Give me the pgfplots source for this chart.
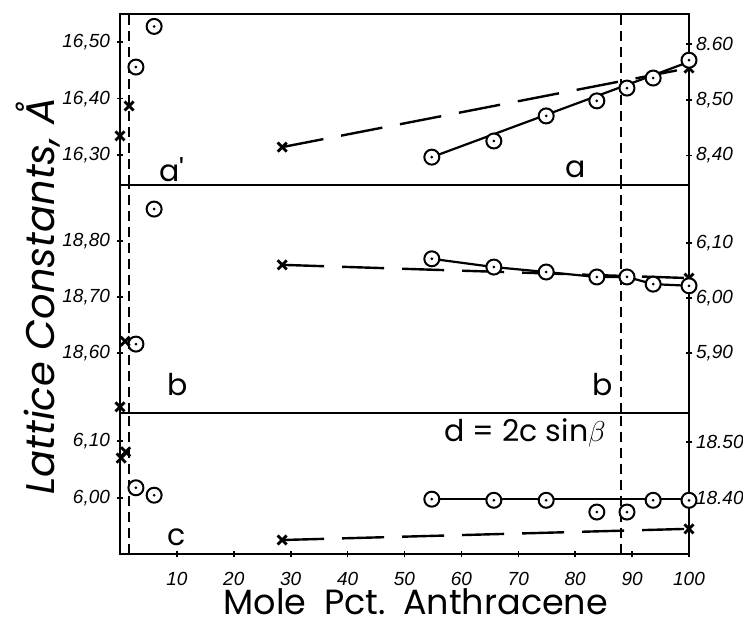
\documentclass[border=0pt]{standalone}
\usepackage{fontspec}
\setmainfont{Liberation Sans}
\newfontfamily\hand{Poppins}
\usepackage{pgfplots}
\pgfplotsset{compat=1.18}

% circle with a dot in the middle
\pgfdeclareplotmark{odot}{%
  \pgfpathcircle{\pgfpointorigin}{\pgfplotmarksize}%
  \pgfusepathqfillstroke
  \begin{pgfscope}
  \pgfpathcircle{\pgfpointorigin}{0.2\pgfplotmarksize}%
  \pgfsetfillcolor{black}\pgfusepathqfill
  \end{pgfscope}}

\pgfplotsset{
  panel/.style={scale only axis, width=284.5pt, xmin=0, xmax=100, clip=false,
    axis line style={line width=1pt},
    every tick/.style={black, line width=0.8pt},
    major tick length=3pt, tick align=center,
    yticklabel style={font=\fontsize{9.5}{10}\selectfont\itshape},
    xticklabel style={font=\fontsize{9.5}{10}\selectfont\itshape, yshift=-4pt},
  },
  leftax/.style={panel, ytick pos=left, xtick=\empty},
  rightax/.style={panel, axis x line=none, axis y line*=right, xtick=\empty,
    yticklabel style={xshift=-1.5pt}},
  circ/.style={only marks, mark=odot, mark size=3.75pt, mark options={fill=white, line width=1pt, solid}},
  crs/.style={only marks, mark=x, mark size=3.2pt, mark options={line width=1.4pt, solid}},
  longdash/.style={black, line width=1.2pt, dash pattern=on 21pt off 9pt},
  vdash/.style={black, line width=0.9pt, dash pattern=on 5pt off 3pt},
  ln/.style={black, line width=1.1pt},
}
\tikzset{lab/.style={font=\hand\fontsize{15}{15}\selectfont}}

\begin{document}
\begin{tikzpicture}
\useasboundingbox (-60pt,-36pt) rectangle (311.5pt,277pt);

% ---------- panel c (bottom) ----------
\begin{axis}[leftax, at={(0pt,0pt)}, anchor=south west, height=70.5pt,
  ymin=5.902, ymax=6.149,
  ytick={6.0,6.1}, yticklabels={{6,00},{6,10}},
  xtick={10,20,...,100}, xticklabels={10,20,30,40,50,60,70,80,90,100}, xtick pos=bottom,
  xlabel={\hand\fontsize{17.5}{18}\selectfont Mole\enspace Pct.\enspace Anthracene},
  xlabel style={at={(axis description cs:0.52,-0.34)}, anchor=center},
]
\addplot[vdash] coordinates {(1.6,5.902) (1.6,6.149)};
\addplot[vdash] coordinates {(88,5.902) (88,6.149)};
\addplot[circ] coordinates {(2.8,6.018) (6.0,6.005)};
\addplot[crs] coordinates {(1.0,6.081) (0.2,6.070)};
\node[lab] at (axis cs:10,5.932) {c};
\node[lab] at (axis cs:71.2,6.114) {d = 2c sin$\beta$};
\end{axis}
\begin{axis}[rightax, at={(0pt,0pt)}, anchor=south west, height=70.5pt,
  ymin=18.30, ymax=18.552,
  ytick={18.4,18.5}, yticklabels={{18.40},{18.50}},
]
\addplot[ln] coordinates {(54.8,18.398) (100,18.398)};
\addplot[longdash] coordinates {(28.5,18.325) (100,18.345)};
\addplot[crs] coordinates {(28.5,18.325) (100,18.345)};
\addplot[circ] coordinates {(54.8,18.398) (65.7,18.396) (74.9,18.396) (83.8,18.375) (89.1,18.375) (93.7,18.396) (100,18.396)};
\end{axis}

% ---------- panel b (middle) ----------
\begin{axis}[leftax, at={(0pt,70.5pt)}, anchor=south west, height=114pt,
  ymin=18.493, ymax=18.90,
  ytick={18.6,18.7,18.8}, yticklabels={{18,60},{18,70},{18,80}},
  ylabel={\hand\itshape\fontsize{20}{20}\selectfont Lattice Constants, Å},
  ylabel style={at={(axis description cs:-0.144,0.513)}, anchor=center},
]
\addplot[vdash] coordinates {(1.6,18.493) (1.6,18.90)};
\addplot[vdash] coordinates {(88,18.493) (88,18.90)};
\addplot[circ] coordinates {(6.0,18.857) (2.8,18.616)};
\addplot[crs] coordinates {(0.9,18.621) (0,18.504)};
\node[lab] at (axis cs:10.2,18.543) {b};
\node[lab] at (axis cs:84.9,18.543) {b};
\end{axis}
\begin{axis}[rightax, at={(0pt,70.5pt)}, anchor=south west, height=114pt,
  ymin=5.791, ymax=6.205,
  ytick={5.9,6.0,6.1}, yticklabels={{5,90},{6,00},{6,10}},
]
\addplot[longdash] coordinates {(28.5,6.060) (100,6.036)};
\addplot[crs] coordinates {(28.5,6.060) (100,6.036)};
\addplot[ln] coordinates {(54.8,6.071) (65.7,6.056) (74.9,6.047) (83.8,6.038) (89.1,6.038) (93.7,6.025) (100,6.022)};
\addplot[circ] coordinates {(54.8,6.071) (65.7,6.056) (74.9,6.047) (83.8,6.038) (89.1,6.038) (93.7,6.025) (100,6.022)};
\end{axis}

% ---------- panel a (top) ----------
\begin{axis}[leftax, at={(0pt,184.5pt)}, anchor=south west, height=85.5pt,
  ymin=16.247, ymax=16.55,
  ytick={16.3,16.4,16.5}, yticklabels={{16,30},{16,40},{16,50}},
]
\addplot[vdash] coordinates {(1.6,16.247) (1.6,16.55)};
\addplot[vdash] coordinates {(88,16.247) (88,16.55)};
\addplot[circ] coordinates {(6.0,16.528) (2.8,16.456)};
\addplot[crs] coordinates {(1.6,16.387) (0,16.334)};
\node[lab] at (axis cs:9.1,16.274) {a'};
\node[lab] at (axis cs:80,16.274) {a};
\end{axis}
\begin{axis}[rightax, at={(0pt,184.5pt)}, anchor=south west, height=85.5pt,
  ymin=8.347, ymax=8.654,
  ytick={8.4,8.5,8.6}, yticklabels={{8,40},{8,50},{8.60}},
]
\addplot[longdash] coordinates {(28.5,8.415) (100,8.557)};
\addplot[crs] coordinates {(28.5,8.415) (100,8.557)};
\addplot[ln] coordinates {(54.8,8.397) (100,8.568)};
\addplot[circ] coordinates {(54.8,8.397) (65.7,8.426) (74.9,8.471) (83.8,8.498) (89.1,8.521) (93.7,8.539) (100,8.571)};
\end{axis}
\end{tikzpicture}
\end{document}
